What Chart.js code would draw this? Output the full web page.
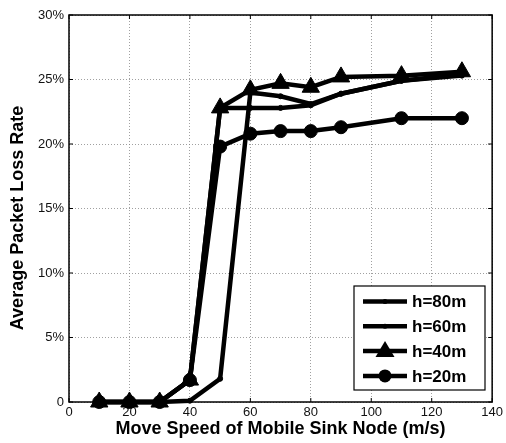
<!DOCTYPE html>
<html>
<head>
<meta charset="utf-8">
<script src="https://cdn.jsdelivr.net/npm/chart.js@4/dist/chart.umd.min.js"></script>
<style>
html,body{margin:0;padding:0;background:#fff;}
#wrap{width:506px;height:443px;position:relative;}
</style>
</head>
<body>
<div id="wrap"><canvas id="c" width="506" height="443"></canvas></div>
<script>
const speeds = [10, 20, 30, 40, 50, 60, 70, 80, 90, 110, 130];
const h80 = [0, 0, 0, 0.1, 1.8, 24.0, 23.7, 23.1, 23.9, 24.9, 25.3];
const h60 = [0, 0, 0, 1.7, 22.8, 22.8, 22.8, 23.0, 23.9, 24.9, 25.4];
const h40 = [0, 0, 0, 1.7, 22.8, 24.2, 24.7, 24.4, 25.2, 25.3, 25.6];
const h20 = [0, 0, 0, 1.7, 19.8, 20.8, 21.0, 21.0, 21.3, 22.0, 22.0];
const seriesLabels = ['h=80m', 'h=60m', 'h=40m', 'h=20m'];
const xTicks = [0, 20, 40, 60, 80, 100, 120, 140];
const yTicks = [0, 5, 10, 15, 20, 25, 30];
const xTitle = 'Move Speed of Mobile Sink Node (m/s)';
const yTitle = 'Average Packet Loss Rate';

const FONT = '"Liberation Sans", Arial, Helvetica, sans-serif';
const styles = [
  {pointStyle: 'circle', r: 2.5},
  {pointStyle: 'circle', r: 2.5},
  {pointStyle: 'triangle', r: 10},
  {pointStyle: 'circle', r: 6.5}
];
const allSeries = [h80, h60, h40, h20];
const datasets = allSeries.map((arr, i) => ({
  label: seriesLabels[i],
  data: arr.map((v, j) => ({x: speeds[j], y: v})),
  borderColor: '#000',
  backgroundColor: '#000',
  borderWidth: 4.5,
  pointStyle: styles[i].pointStyle,
  pointRadius: styles[i].r,
  pointBorderWidth: 1,
  pointBackgroundColor: '#000',
  pointBorderColor: '#000',
  tension: 0,
  fill: false,
  clip: false
}));

const boxPlugin = {
  id: 'boxPlugin',
  afterDatasetsDraw(chart) {
    const {ctx, chartArea: a} = chart;
    ctx.save();
    ctx.strokeStyle = '#000';
    ctx.lineWidth = 1.5;
    ctx.strokeRect(a.left, a.top, a.right - a.left, a.bottom - a.top);
    const xs = chart.scales.x, ys = chart.scales.y;
    ctx.lineWidth = 1;
    xTicks.forEach(t => {
      const px = xs.getPixelForValue(t);
      ctx.beginPath(); ctx.moveTo(px, a.bottom); ctx.lineTo(px, a.bottom - 4); ctx.stroke();
      ctx.beginPath(); ctx.moveTo(px, a.top); ctx.lineTo(px, a.top + 4); ctx.stroke();
    });
    yTicks.forEach(t => {
      const py = ys.getPixelForValue(t);
      ctx.beginPath(); ctx.moveTo(a.left, py); ctx.lineTo(a.left + 4, py); ctx.stroke();
      ctx.beginPath(); ctx.moveTo(a.right, py); ctx.lineTo(a.right - 4, py); ctx.stroke();
    });
    ctx.restore();
  },
  afterDraw(chart) {
    const {ctx} = chart;
    const ds = chart.data.datasets;
    // y-axis title
    ctx.save();
    ctx.font = 'bold 18px ' + FONT;
    ctx.fillStyle = '#000';
    ctx.textAlign = 'center';
    ctx.textBaseline = 'middle';
    ctx.translate(18, 218);
    ctx.rotate(-Math.PI / 2);
    ctx.fillText(yTitle, 0, 0);
    ctx.restore();
    // legend
    const bx = 354, by = 286, bw = 131, bh = 104;
    ctx.save();
    ctx.fillStyle = '#fff';
    ctx.fillRect(bx, by, bw, bh);
    ctx.strokeStyle = '#000';
    ctx.lineWidth = 1.2;
    ctx.strokeRect(bx, by, bw, bh);
    ctx.font = 'bold 17px ' + FONT;
    ctx.textBaseline = 'middle';
    ctx.fillStyle = '#000';
    ds.forEach((d, i) => {
      const cy = by + 15.5 + i * 24.8;
      ctx.lineWidth = 4.5;
      ctx.beginPath(); ctx.moveTo(363, cy); ctx.lineTo(407, cy); ctx.stroke();
      const mx = 385;
      ctx.beginPath();
      if (d.pointStyle === 'triangle') {
        const r = d.pointRadius;
        ctx.moveTo(mx, cy - r); ctx.lineTo(mx + r * 0.95, cy + r * 0.6); ctx.lineTo(mx - r * 0.95, cy + r * 0.6); ctx.closePath();
      } else {
        ctx.arc(mx, cy, d.pointRadius, 0, Math.PI * 2);
      }
      ctx.fill();
      ctx.fillText(d.label, 412, cy + 1);
    });
    ctx.restore();
  }
};

new Chart(document.getElementById('c'), {
  type: 'line',
  data: {datasets},
  options: {
    responsive: false,
    animation: false,
    devicePixelRatio: 1,
    layout: {padding: {left: 0, right: 12, top: 15, bottom: 0}},
    plugins: {legend: {display: false}, tooltip: {enabled: false}},
    scales: {
      x: {
        type: 'linear',
        min: 0, max: 140,
        afterBuildTicks: s => { s.ticks = xTicks.map(v => ({value: v})); },
        afterFit: s => { s.height = 41; },
        grid: {color: '#888', lineWidth: 0.8, tickLength: 0, drawTicks: false},
        border: {display: false, dash: [1, 2]},
        ticks: {color: '#111', font: {family: FONT, size: 13}, padding: 3, maxRotation: 0, callback: v => String(v)},
        title: {display: true, text: xTitle, color: '#000',
                font: {family: FONT, size: 18, weight: 'bold'}, padding: {top: 0, bottom: 3}}
      },
      y: {
        type: 'linear',
        min: 0, max: 30,
        afterBuildTicks: s => { s.ticks = yTicks.map(v => ({value: v})); },
        afterFit: s => { s.width = 69; },
        grid: {color: '#888', lineWidth: 0.8, tickLength: 0, drawTicks: false},
        border: {display: false, dash: [1, 2]},
        ticks: {color: '#111', font: {family: FONT, size: 13}, padding: 5, callback: v => v === 0 ? '0' : v + '%'},
        title: {display: false, text: yTitle}
      }
    }
  },
  plugins: [boxPlugin]
});
</script>
</body>
</html>
